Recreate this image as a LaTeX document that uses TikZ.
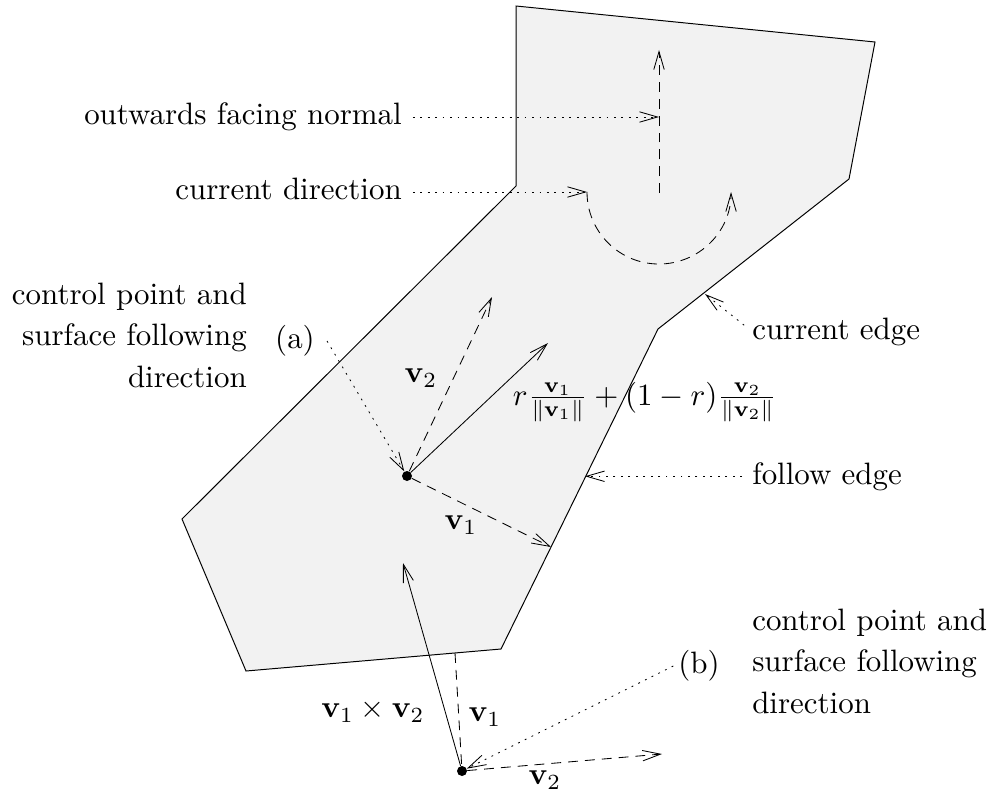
\RequirePackage{fix-cm}
\documentclass[tikz,border=0pt]{standalone}
\usepackage{graphicx}
\usetikzlibrary{arrows.meta}
\font\bigrm="[lmroman10-regular.otf]" at 22pt
\newcommand{\mth}[1]{\scalebox{2.2}{\fontsize{10}{12}\selectfont$#1$}}
\begin{document}
\begin{tikzpicture}[x=0.025cm,y=-0.025cm,
  every node/.style={inner sep=0pt, font={\bigrm\baselineskip=29.5pt}},
  surf/.style={draw, line width=0.7pt, fill=gray!10},
  vec/.style={line width=0.6pt, -{Straight Barb[length=4.5mm,width=2.6mm]}},
  dsh/.style={line width=0.6pt, dash pattern=on 7pt off 5pt},
  dtt/.style={line width=0.6pt, dash pattern=on 1.3pt off 4pt},
  pt/.style={circle, fill, inner sep=0pt, minimum size=0.25cm},
]
\useasboundingbox (0,0) rectangle (990,795);
% surface
\draw[surf] (516,6) -- (875,42) -- (849,179) -- (658,329) -- (501,649)
  -- (246,671) -- (182,519) -- (516,186) -- cycle;

% coordinates
\coordinate (ntip) at (659,50);
\coordinate (nbase) at (659,193);
\coordinate (nmid) at (659,117);
\coordinate (arcS) at (587,192);
\coordinate (ce) at (705,294);
\coordinate (fe) at (585,476);
\coordinate (a2) at (492,297);
\coordinate (as) at (548,343);
\coordinate (a1) at (551,547);
\coordinate (bn) at (403,563);
\coordinate (b1) at (455,653);
\coordinate (b2) at (662,754);
\node[pt] (pa) at (407,476) {};
\node[pt] (pb) at (462,771) {};

% texts
\node[anchor=base east] (tn) at (402,124) {outwards facing normal};
\node[anchor=base east] (td) at (402,199) {current direction};
\node[anchor=base east, align=right] (tca) at (247,387) {control point and\\surface following\\direction};
\node (la) at (295,341) {(a)};
\node[anchor=base west] (tce) at (752,339) {current edge};
\node[anchor=base west] (tfe) at (752,484) {follow edge};
\node (lb) at (699,666) {(b)};
\node[anchor=base west, align=left] (tcb) at (752,713) {control point and\\surface following\\direction};
\node (form) at (645,402) {\mth{r\frac{\mathbf{v}_1}{\|\mathbf{v}_1\|}+(1-r)\frac{\mathbf{v}_2}{\|\mathbf{v}_2\|}}};
\node (lv2a) at (421,378) {\mth{\mathbf{v}_2}};
\node (lv1a) at (461,525) {\mth{\mathbf{v}_1}};
\node (lcr) at (373,711) {\mth{\mathbf{v}_1\times\mathbf{v}_2}};
\node (lv1b) at (485,717) {\mth{\mathbf{v}_1}};
\node (lv2b) at (545,780) {\mth{\mathbf{v}_2}};

% normal and direction
\draw[vec,dsh] (nbase) -- (ntip);
\draw[vec,dsh] (arcS) arc[start angle=180, end angle=360, radius=1.8cm];

% pointer lines
\draw[vec,dtt,shorten <=0.27cm] (tn.east |- nmid) -- (nmid);
\draw[vec,dtt,shorten <=0.27cm] (td.east |- arcS) -- (arcS);
\draw[vec,dtt,shorten <=0.25cm] (tce.west) -- (ce);
\draw[vec,dtt,shorten <=0.25cm] (tfe.west) -- (tfe.west -| fe);
\draw[vec,dtt] ([xshift=0.3cm]la.east) -- (pa);
\draw[vec,dtt] ([xshift=-0.12cm]lb.west) -- (pb);

% vectors at (a)
\draw[vec,dsh] (pa) -- (a2);
\draw[vec] (pa) -- (as);
\draw[vec,dsh] (pa) -- (a1);

% vectors at (b)
\draw[vec] (pb) -- (bn);
\draw[dsh] (b1) -- (pb);
\draw[vec,dsh] (pb) -- (b2);
\end{tikzpicture}
\end{document}
